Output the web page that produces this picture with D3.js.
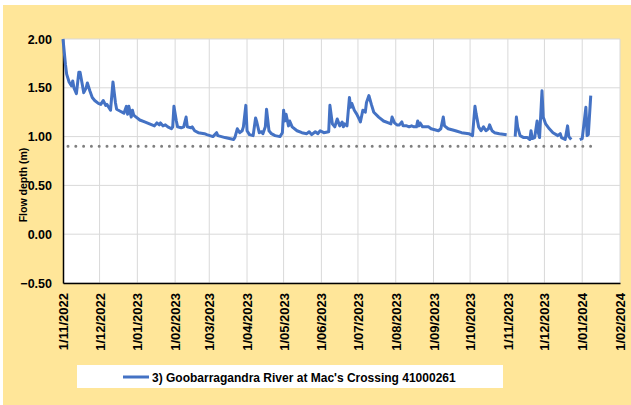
<!DOCTYPE html>
<html>
<head>
<meta charset="utf-8">
<script src="https://cdn.jsdelivr.net/npm/d3@7"></script>
<style>
  body { margin: 0; background: #fff; }
  svg { display: block; font-family: 'Liberation Sans', Arial, sans-serif; }
</style>
</head>
<body>
<svg id="chart" width="631" height="405"></svg>
<script>
var seriesName = "3) Goobarragandra River at Mac's Crossing 41000261";
var thresholdDepth = 0.9;
var yTicks = [-0.5, 0, 0.5, 1, 1.5, 2];
var monthTicks = [
  '2022-11-01', '2022-12-01', '2023-01-01', '2023-02-01', '2023-03-01',
  '2023-04-01', '2023-05-01', '2023-06-01', '2023-07-01', '2023-08-01',
  '2023-09-01', '2023-10-01', '2023-11-01', '2023-12-01', '2024-01-01',
  '2024-02-01'
];

// readings, null = no data
var dates = [
  '2022-11-01', '2022-11-03', '2022-11-04', '2022-11-06', '2022-11-08', '2022-11-09',
  '2022-11-10', '2022-11-12', '2022-11-14', '2022-11-15', '2022-11-17', '2022-11-18',
  '2022-11-20', '2022-11-21', '2022-11-23', '2022-11-25', '2022-11-27', '2022-11-30',
  '2022-12-02', '2022-12-04', '2022-12-06', '2022-12-07', '2022-12-09', '2022-12-10',
  '2022-12-12', '2022-12-14', '2022-12-15', '2022-12-18', '2022-12-21', '2022-12-23',
  '2022-12-24', '2022-12-25', '2022-12-27', '2022-12-28', '2022-12-29', '2022-12-31',
  '2023-01-03', '2023-01-07', '2023-01-11', '2023-01-15', '2023-01-17', '2023-01-19',
  '2023-01-20', '2023-01-22', '2023-01-24', '2023-01-26', '2023-01-29', '2023-01-30',
  '2023-01-31', '2023-02-02', '2023-02-03', '2023-02-06', '2023-02-08', '2023-02-10',
  '2023-02-11', '2023-02-14', '2023-02-15', '2023-02-17', '2023-02-20', '2023-02-25',
  '2023-02-27', '2023-03-04', '2023-03-07', '2023-03-08', '2023-03-14', '2023-03-21',
  '2023-03-22', '2023-03-24', '2023-03-26', '2023-03-28', '2023-03-29', '2023-03-31',
  '2023-04-01', '2023-04-03', '2023-04-06', '2023-04-08', '2023-04-09', '2023-04-11',
  '2023-04-13', '2023-04-14', '2023-04-16', '2023-04-17', '2023-04-19', '2023-04-21',
  '2023-04-24', '2023-04-28', '2023-04-30', '2023-05-01', '2023-05-02', '2023-05-03',
  '2023-05-05', '2023-05-06', '2023-05-08', '2023-05-12', '2023-05-16', '2023-05-20',
  '2023-05-22', '2023-05-24', '2023-05-27', '2023-05-29', '2023-05-31', '2023-06-03',
  '2023-06-07', '2023-06-08', '2023-06-10', '2023-06-12', '2023-06-14', '2023-06-16',
  '2023-06-18', '2023-06-19', '2023-06-20', '2023-06-22', '2023-06-24', '2023-06-25',
  '2023-06-26', '2023-06-28', '2023-06-30', '2023-07-02', '2023-07-03', '2023-07-05',
  '2023-07-07', '2023-07-08', '2023-07-10', '2023-07-12', '2023-07-14', '2023-07-18',
  '2023-07-22', '2023-07-26', '2023-07-28', '2023-07-29', '2023-07-31', '2023-08-02',
  '2023-08-04', '2023-08-06', '2023-08-07', '2023-08-10', '2023-08-12', '2023-08-14',
  '2023-08-16', '2023-08-18', '2023-08-19', '2023-08-20', '2023-08-21', '2023-08-23',
  '2023-08-25', '2023-08-28', '2023-08-30', '2023-09-02', '2023-09-05', '2023-09-07',
  '2023-09-09', '2023-09-10', '2023-09-13', '2023-09-19', '2023-09-24', '2023-09-30',
  '2023-10-03', '2023-10-05', '2023-10-06', '2023-10-08', '2023-10-10', '2023-10-12',
  '2023-10-14', '2023-10-16', '2023-10-17', '2023-10-19', '2023-10-21', '2023-10-25',
  '2023-10-31', '2023-11-03', '2023-11-07', '2023-11-08', '2023-11-09', '2023-11-11',
  '2023-11-14', '2023-11-17', '2023-11-19', '2023-11-20', '2023-11-21', '2023-11-23',
  '2023-11-25', '2023-11-26', '2023-11-27', '2023-11-29', '2023-11-30', '2023-12-02',
  '2023-12-05', '2023-12-08', '2023-12-12', '2023-12-14', '2023-12-15', '2023-12-18',
  '2023-12-20', '2023-12-21', '2023-12-23', '2023-12-26', '2023-12-30', '2024-01-01',
  '2024-01-04', '2024-01-05', '2024-01-06', '2024-01-08'
];
var depths = [
  2.00, 1.74, 1.64, 1.56, 1.52, 1.57,
  1.50, 1.44, 1.66, 1.66, 1.52, 1.45,
  1.50, 1.55, 1.47, 1.40, 1.37, 1.34,
  1.33, 1.37, 1.32, 1.33, 1.29, 1.27,
  1.56, 1.35, 1.28, 1.26, 1.24, 1.31,
  1.23, 1.31, 1.20, 1.27, 1.22, 1.20,
  1.17, 1.15, 1.13, 1.11, 1.14, 1.12,
  1.14, 1.11, 1.12, 1.10, 1.08, 1.10,
  1.31, 1.16, 1.10, 1.09, 1.10, 1.20,
  1.10, 1.09, 1.10, 1.06, 1.04, 1.03,
  1.02, 1.00, 1.04, 1.01, 0.99, 0.97,
  0.99, 1.08, 1.04, 1.06, 1.10, 1.32,
  1.06, 1.02, 1.01, 1.19, 1.15, 1.04,
  1.05, 1.03, 1.10, 1.28, 1.06, 1.03,
  1.01, 1.00, 1.04, 1.27, 1.16, 1.23,
  1.11, 1.16, 1.10, 1.06, 1.04, 1.03,
  1.05, 1.02, 1.05, 1.03, 1.06, 1.04,
  1.05, 1.32, 1.13, 1.10, 1.18, 1.11,
  1.15, 1.10, 1.13, 1.11, 1.40, 1.30,
  1.34, 1.27, 1.23, 1.18, 1.15, 1.27,
  1.25, 1.35, 1.42, 1.33, 1.25, 1.20,
  1.16, 1.14, 1.13, 1.20, 1.14, 1.12,
  1.12, 1.15, 1.11, 1.11, 1.10, 1.11,
  1.10, 1.10, 1.16, 1.11, 1.14, 1.10,
  1.10, 1.10, 1.08, 1.07, 1.06, 1.08,
  1.20, 1.11, 1.08, 1.06, 1.04, 1.03,
  1.01, 1.31, 1.23, 1.10, 1.06, 1.10,
  1.06, 1.08, 1.12, 1.06, 1.04, 1.03,
  1.02, null, 1.00, 1.20, 1.10, 1.01,
  0.99, 0.99, 0.97, 1.06, 0.98, 0.99,
  1.16, 1.04, 0.99, 1.47, 1.20, 1.13,
  1.08, 1.04, 1.01, 1.03, 0.99, 0.97,
  1.11, 1.00, 0.97, null, 0.97, 0.98,
  1.30, 1.01, 1.02, 1.42
];

var parseDate = d3.timeParse('%Y-%m-%d');
var plot = { left: 63, right: 620, top: 39, bottom: 283 };

var svg = d3.select('#chart');

svg.append('rect')
  .attr('x', 3).attr('y', 5)
  .attr('width', 628).attr('height', 400)
  .attr('fill', '#ffe699');

svg.append('rect')
  .attr('x', plot.left).attr('y', plot.top)
  .attr('width', plot.right - plot.left)
  .attr('height', plot.bottom - plot.top)
  .attr('fill', '#fff');

var months = monthTicks.map(parseDate);
var x = d3.scaleTime()
  .domain([months[0], months[months.length - 1]])
  .range([plot.left, plot.right]);
var y = d3.scaleLinear()
  .domain([yTicks[0], yTicks[yTicks.length - 1]])
  .range([plot.bottom, plot.top]);

// gridlines
svg.append('g')
  .selectAll('line.hgrid')
  .data(yTicks)
  .enter().append('line')
  .attr('x1', plot.left).attr('x2', plot.right)
  .attr('y1', y).attr('y2', y)
  .attr('stroke', '#d9d9d9').attr('stroke-width', 1);
svg.append('g')
  .selectAll('line.vgrid')
  .data(months.slice(1))
  .enter().append('line')
  .attr('x1', x).attr('x2', x)
  .attr('y1', plot.top).attr('y2', plot.bottom)
  .attr('stroke', '#d9d9d9').attr('stroke-width', 1);

// y axis
var yAxis = svg.append('g')
  .attr('transform', 'translate(' + plot.left + ',0)')
  .call(d3.axisLeft(y).tickValues(yTicks).tickFormat(d3.format('.2f')).tickSize(0).tickPadding(11));
yAxis.select('.domain').attr('stroke', '#000').attr('stroke-width', 1.5);
yAxis.selectAll('text')
  .attr('font-size', 12.5).attr('font-weight', 'bold').attr('fill', '#000')
  .attr('font-family', "'Liberation Sans', Arial, sans-serif");

// x axis
var xAxis = svg.append('g')
  .attr('transform', 'translate(0,' + plot.bottom + ')')
  .call(d3.axisBottom(x).tickValues(months).tickFormat(d3.timeFormat('%-d/%m/%Y')).tickSize(0));
xAxis.select('.domain').attr('stroke', '#000').attr('stroke-width', 1.5);
xAxis.selectAll('text')
  .attr('font-size', 13).attr('font-weight', 'bold').attr('fill', '#000')
  .attr('font-family', "'Liberation Sans', Arial, sans-serif")
  .attr('text-anchor', 'end')
  .attr('transform', 'translate(0,10) rotate(-90)')
  .attr('x', 0).attr('y', 0).attr('dy', '0.35em');

svg.append('text')
  .attr('transform', 'translate(27,185) rotate(-90)')
  .attr('text-anchor', 'middle')
  .attr('font-size', 10.5).attr('font-weight', 'bold')
  .text('Flow depth (m)');

var points = dates.map(function (d, i) {
  return { date: parseDate(d), depth: depths[i] };
});

// threshold dots
var firstDate = points[0].date;
var lastDate = points[points.length - 1].date;
svg.append('line')
  .attr('x1', x(firstDate) + 5).attr('x2', x(lastDate))
  .attr('y1', y(thresholdDepth)).attr('y2', y(thresholdDepth))
  .attr('stroke', '#7f7f7f').attr('stroke-width', 3)
  .attr('stroke-linecap', 'round')
  .attr('stroke-dasharray', '0 7.8');

var line = d3.line()
  .defined(function (d) { return d.depth !== null; })
  .x(function (d) { return x(d.date); })
  .y(function (d) { return y(d.depth); });

svg.append('path')
  .datum(points)
  .attr('d', line)
  .attr('fill', 'none')
  .attr('stroke', '#4472c4')
  .attr('stroke-width', 3)
  .attr('stroke-linejoin', 'round');

// legend
var legend = svg.append('g');
legend.append('rect')
  .attr('x', 77).attr('y', 365)
  .attr('width', 426).attr('height', 23)
  .attr('fill', '#fff');
legend.append('line')
  .attr('x1', 123).attr('x2', 149)
  .attr('y1', 377).attr('y2', 377)
  .attr('stroke', '#4472c4').attr('stroke-width', 3);
legend.append('text')
  .attr('x', 152).attr('y', 381.5)
  .attr('font-size', 12).attr('font-weight', 'bold')
  .text(seriesName);
</script>
</body>
</html>
